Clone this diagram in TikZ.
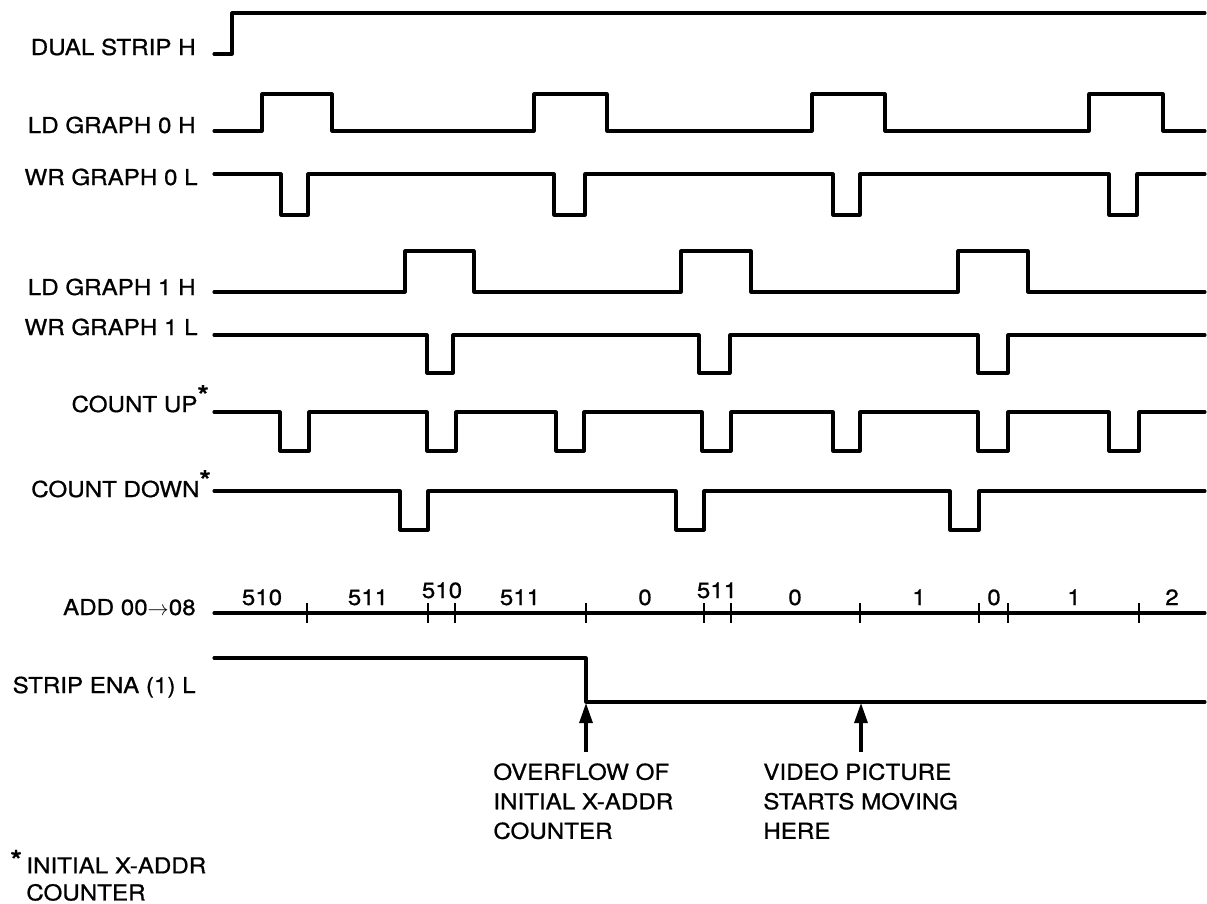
\documentclass[tikz,border=0pt]{standalone}
\usepackage{fontspec}
\setmainfont{TeX Gyre Heros}[FakeStretch=1.1, FakeBold=0.8]
\usepackage{tikz}
\usetikzlibrary{arrows.meta,positioning}
\newcommand{\fnmark}{\textsuperscript{\fontsize{15}{15}\selectfont\bfseries *}}

\begin{document}
\begin{tikzpicture}[
  x=0.02cm, y=-0.02cm,
  sig/.style={line width=1.75pt, line join=round, line cap=round},
  tickmark/.style={line width=1.5pt},
  siglabel/.style={anchor=base east, inner sep=0pt, font=\fontsize{12.5}{15}\selectfont},
  cnt/.style={anchor=base, inner sep=0pt, font=\fontsize{12.5}{15}\selectfont},
  note/.style={anchor=north west, inner sep=0pt, align=left, font=\fontsize{12.5}{16.8}\selectfont},
  ptr/.style={-{Triangle[length=0.4cm, width=0.26cm]}, line width=1.75pt},
]
  \useasboundingbox (0,0) rectangle (1207,903);

  % signal names
  \node[siglabel] (dual) at (196,55) {DUAL STRIP H};
  \node[siglabel] (ldzero) at (196,133) {LD GRAPH 0 H};
  \node[siglabel] (wrzero) at (198,185) {WR GRAPH 0 L};
  \node[siglabel] (ldone) at (196,295) {LD GRAPH 1 H};
  \node[siglabel] (wrone) at (198,335) {WR GRAPH 1 L};
  \node[siglabel] (cup) at (210,412) {COUNT UP\fnmark};
  \node[siglabel] (cdown) at (212,497) {COUNT DOWN\fnmark};
  \node[siglabel] (addr) at (196,615) {ADD 00$\rightarrow$08};
  \node[siglabel] (ena) at (196,693) {STRIP ENA (1) L};

  % waveforms
  \draw[sig] (214,54) -- (232,54) -- (232,13) -- (1205,13);
  \draw[sig] (214,131) foreach \a/\b in {262/332,534/607,812/885,1089/1163}
    { -- (\a,131) -- (\a,94) -- (\b,94) -- (\b,131) } -- (1205,131);
  \draw[sig] (214,174) foreach \a/\b in {281/308,554/585,833/860,1109/1137}
    { -- (\a,174) -- (\a,215) -- (\b,215) -- (\b,174) } -- (1205,174);
  \draw[sig] (214,292) foreach \a/\b in {405/474,681/751,958/1028}
    { -- (\a,292) -- (\a,251) -- (\b,251) -- (\b,292) } -- (1205,292);
  \draw[sig] (214,335) foreach \a/\b in {427/453,699/730,978/1008}
    { -- (\a,335) -- (\a,373) -- (\b,373) -- (\b,335) } -- (1205,335);
  \draw[sig] (214,412) foreach \a/\b in {280/309,427/456,556/584,702/731,833/860,978/1008,1109/1139}
    { -- (\a,412) -- (\a,451) -- (\b,451) -- (\b,412) } -- (1205,412);
  \draw[sig] (214,491) foreach \a/\b in {400/428,676/704,950/979}
    { -- (\a,491) -- (\a,530) -- (\b,530) -- (\b,491) } -- (1205,491);

  % address bus
  \draw[sig] (214,613) -- (1205,613);
  \foreach \t in {307,428,455,586,704,731,860,979,1008,1139}
    \draw[tickmark] (\t,603) -- (\t,623);
  \node[cnt] (ca) at (262,605) {510};
  \node[cnt] (cb) at (368,605) {511};
  \node[cnt] (cc) at (442,598) {510};
  \node[cnt] (cd) at (520,605) {511};
  \node[cnt] (ce) at (645,605) {0};
  \node[cnt] (cf) at (717,598) {511};
  \node[cnt] (cg) at (795,605) {0};
  \node[cnt] (ch) at (919,605) {1};
  \node[cnt] (ci) at (994,605) {0};
  \node[cnt] (cj) at (1074,605) {1};
  \node[cnt] (ck) at (1172,605) {2};

  \draw[sig] (214,658) -- (586,658) -- (586,702) -- (1205,702);

  % events
  \coordinate (ovf) at (586,703);
  \coordinate (ovfstart) at (586,752);
  \coordinate (move) at (861,703);
  \coordinate (movestart) at (861,752);
  \draw[ptr] (ovfstart) -- (ovf);
  \draw[ptr] (movestart) -- (move);
  \node[note] (ovftext) at (493,763) {OVERFLOW OF\\INITIAL X-ADDR\\COUNTER};
  \node[note] (movetext) at (763,763) {VIDEO PICTURE\\STARTS MOVING\\HERE};

  \node[note, font=\fontsize{12.5}{15.4}\selectfont] (footnote) at (26,857)
    {\llap{\smash{\raisebox{-0.3ex}{\fnmark}}\,}INITIAL X-ADDR\\COUNTER};
\end{tikzpicture}
\end{document}
